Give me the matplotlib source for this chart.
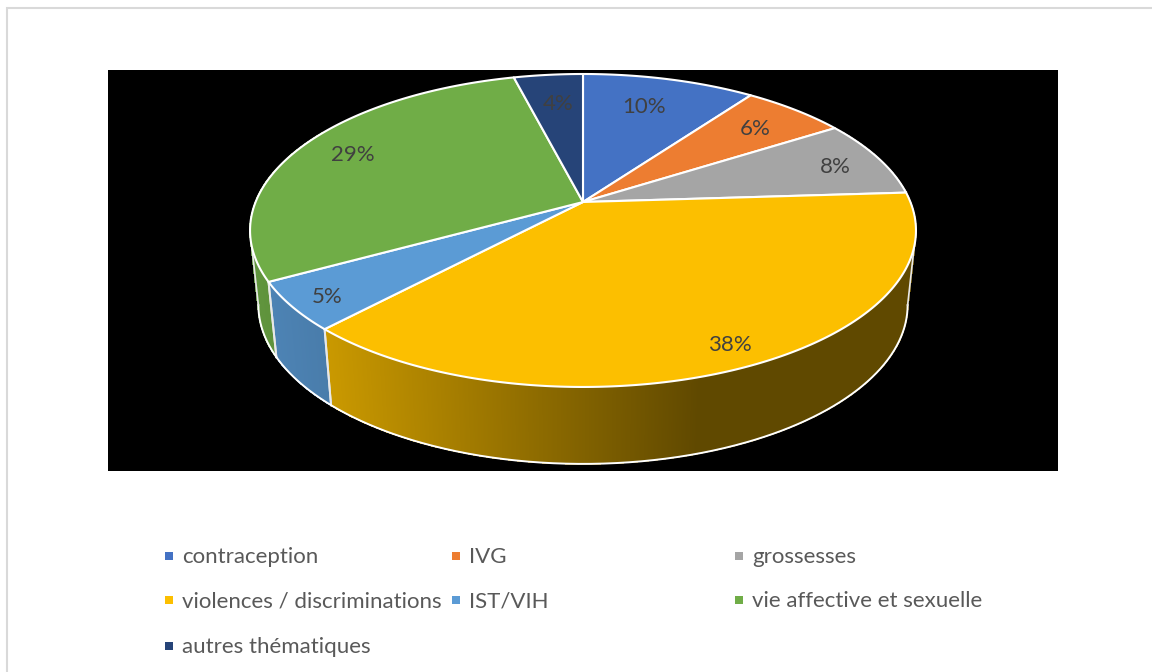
import numpy as np
import matplotlib
matplotlib.use("Agg")
import matplotlib.pyplot as plt
from matplotlib.patches import Rectangle, Polygon
from matplotlib.collections import PolyCollection
from matplotlib.colors import to_rgb

categories = ["contraception", "IVG", "grossesses", "violences / discriminations",
              "IST/VIH", "vie affective et sexuelle", "autres thématiques"]
values = [10, 6, 8, 38, 5, 29, 4]
colors = ["#4472C4", "#ED7D31", "#A5A5A5", "#FCBF00", "#5B9BD5", "#70AD47", "#264478"]

# where the labels and legend entries sit, in pixels
label_xy = [(644, 107), (755, 129), (835, 167), (730, 345), (327, 297), (353, 155), (558, 104)]
legend_xy = [(165, 557), (452, 557), (735, 557), (165, 601), (452, 601), (735, 601), (165, 647)]

plt.rcParams["font.family"] = ["Lato", "DejaVu Sans"]
text_color = "#404040"

fig = plt.figure(figsize=(11.52, 6.72), dpi=100)
ax = fig.add_axes([0, 0, 1, 1])
ax.set_xlim(0, 1152)
ax.set_ylim(672, 0)
ax.axis("off")

# chart frame runs off the right and bottom of the picture
ax.add_patch(Rectangle((7, 8), 1160, 700, fc="white", ec="#D9D9D9", lw=1.5))
ax.add_patch(Rectangle((108, 70), 950, 401, fc="black", ec="none"))

# perspective of the pie disc, fitted on the picture
cx = 583
k = 0.182
def project(t, apex=202, sx=327.4, sy=151.3):
    X = np.sin(t)
    Y = -np.cos(t)
    w = 1 - k * Y
    return cx + sx * X / w, apex + sy * Y / w

def top(t):
    return project(t)

def bottom(t):
    return project(t, apex=276, sx=327.4 * 0.975, sy=153.7)

def shade(x):
    return np.interp(x, [250, 325, 700], [0.86, 0.80, 0.38])

edges = np.cumsum([0] + values) / sum(values) * 2 * np.pi
wall_from, wall_to = np.radians(60), np.radians(300)

# side wall, strip by strip so the shading runs from left to right
for i in range(len(values)):
    t0, t1 = edges[i], edges[i + 1]
    lo, hi = max(t0, wall_from), min(t1, wall_to)
    if lo >= hi:
        continue
    ts = np.linspace(lo, hi, int((hi - lo) * 300) + 2)
    strips = []
    strip_colors = []
    rgb = np.array(to_rgb(colors[i]))
    for a, b in zip(ts[:-1], ts[1:]):
        xa, ya = top(a)
        xb, yb = top(b)
        xc, yc = bottom(b)
        xd, yd = bottom(a)
        strips.append([(xa, ya), (xb, yb), (xc, yc), (xd, yd)])
        strip_colors.append(tuple(rgb * shade((xa + xb) / 2)))
    ax.add_collection(PolyCollection(strips, facecolors=strip_colors, edgecolors=strip_colors,
                                     linewidths=0.5, antialiaseds=False, zorder=2))
    for t in (t0, t1):
        if wall_from < t < wall_to:
            xs, ys = zip(top(t), bottom(t))
            ax.plot(xs, ys, color="#E8E8E8", lw=1.4, zorder=3)

# outline of the wall: bottom curve and both silhouettes
ts = np.linspace(wall_from, wall_to, 800)
xb, yb = bottom(ts)
t_right, t_left = ts[np.argmax(xb)], ts[np.argmin(xb)]
ts = np.linspace(t_right, t_left, 600)
xb, yb = bottom(ts)
ax.plot(xb, yb, color="white", lw=1.4, zorder=3)
for t in (t_right, t_left):
    xs, ys = zip(top(t), bottom(t))
    ax.plot(xs, ys, color="#E8E8E8", lw=1.2, zorder=3)

# top of the pie
for i in range(len(values)):
    ts = np.linspace(edges[i], edges[i + 1], 200)
    xs, ys = top(ts)
    pts = [(cx, 202)] + list(zip(xs, ys))
    ax.add_patch(Polygon(pts, closed=True, fc=colors[i], ec="white", lw=1.5, joinstyle="round", zorder=4))

for i, v in enumerate(values):
    x, y = label_xy[i]
    ax.text(x, y, f"{v}%", ha="center", va="center", fontsize=16, color=text_color, zorder=5)

for i, name in enumerate(categories):
    x, y = legend_xy[i]
    ax.add_patch(Rectangle((x, y - 5), 8, 8, fc=colors[i], ec="none"))
    ax.text(x + 17, y, name, ha="left", va="center", fontsize=16, color="#595959")

fig.savefig("out.png", dpi=100)
